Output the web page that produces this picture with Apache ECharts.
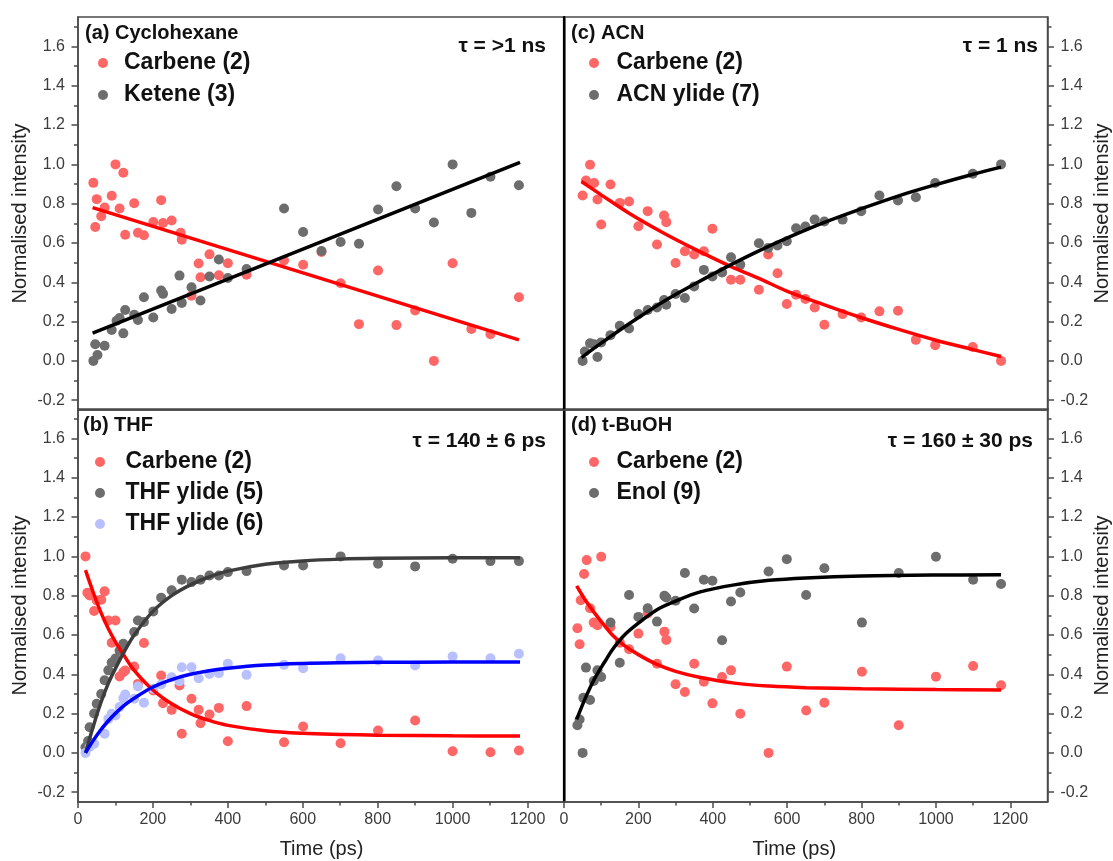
<!DOCTYPE html>
<html><head><meta charset="utf-8">
<script src="https://cdn.jsdelivr.net/npm/echarts@6/dist/echarts.min.js"></script>
<style>html,body{margin:0;padding:0;background:#fff}#c{width:1113px;height:861px}</style>
</head><body><div id="c"></div>
<script>
// ---------- tick labels ----------
const majorXTicks = [0, 200, 400, 600, 800, 1000, 1200];
const minorXTicks = [100, 300, 500, 700, 900, 1100];
const majorYTicks = [-0.2, 0, 0.2, 0.4, 0.6, 0.8, 1.0, 1.2, 1.4, 1.6];
const minorYTicks = [-0.1, 0.1, 0.3, 0.5, 0.7, 0.9, 1.1, 1.3, 1.5, 1.7];

// ---------- (a) Cyclohexane ----------
const cycCarbeneT = [41,46,50,62,71,90,100,111,121,126,150,160,176,201,222,227,250,274,277,303,322,327,351,376,400,450,550,601,650,701,750,801,850,900,950,1000,1050,1101,1177];
const cycCarbeneY = [0.906,0.681,0.823,0.736,0.78,0.84,1.0,0.775,0.957,0.642,0.802,0.652,0.639,0.707,0.818,0.702,0.714,0.652,0.617,0.332,0.496,0.426,0.542,0.436,0.497,0.438,0.511,0.489,0.554,0.395,0.187,0.46,0.182,0.256,0.0,0.497,0.162,0.136,0.324];
const cycKeteneT = [41,46,52,71,90,103,111,121,126,150,160,176,201,222,227,250,271,277,303,327,351,376,400,450,550,601,650,701,750,801,850,900,950,1000,1050,1101,1177];
const cycKeteneY = [0.0,0.085,0.03,0.077,0.157,0.204,0.218,0.14,0.259,0.235,0.208,0.324,0.221,0.358,0.341,0.264,0.434,0.295,0.375,0.307,0.429,0.516,0.422,0.468,0.775,0.656,0.559,0.605,0.596,0.77,0.889,0.775,0.704,1.0,0.753,0.937,0.894];
const cycCarbeneFitT = [39, 1177];
const cycCarbeneFitY = [0.78, 0.107];
const cycKeteneFitT = [39, 1180];
const cycKeteneFitY = [0.141, 1.01];

// ---------- (b) THF ----------
const thfCarbeneT = [20,25,31,43,50,62,71,81,90,100,111,121,126,150,160,176,201,222,227,250,271,277,303,322,327,351,376,400,450,550,601,701,801,900,1000,1101,1177];
const thfCarbeneY = [1.0,0.815,0.801,0.722,0.776,0.779,0.822,0.674,0.56,0.674,0.389,0.411,0.419,0.44,0.351,0.559,0.317,0.394,0.253,0.219,0.343,0.097,0.275,0.219,0.151,0.195,0.229,0.059,0.238,0.054,0.134,0.049,0.114,0.165,0.008,0.003,0.012];
const thfYlide5T = [20,27,31,43,50,62,71,81,90,100,111,121,150,160,176,201,222,250,277,303,327,351,376,400,450,550,601,701,801,900,1000,1101,1177];
const thfYlide5Y = [0.029,0.06,0.13,0.2,0.25,0.3,0.37,0.42,0.46,0.48,0.52,0.555,0.615,0.674,0.666,0.72,0.79,0.827,0.881,0.869,0.881,0.903,0.903,0.92,0.925,0.954,0.954,1.0,0.963,0.949,0.988,0.976,0.976];
const thfYlide6T = [20,31,43,71,81,90,100,111,121,126,150,160,176,201,222,250,271,277,303,322,351,376,400,450,550,601,701,801,900,1000,1101,1177];
const thfYlide6Y = [0.0,0.03,0.046,0.097,0.173,0.199,0.19,0.233,0.278,0.297,0.275,0.338,0.255,0.326,0.348,0.385,0.365,0.436,0.436,0.38,0.402,0.406,0.453,0.397,0.448,0.431,0.482,0.47,0.445,0.491,0.482,0.504];
const thfFitT = [20,40,60,80,100,125,150,200,250,300,350,400,500,600,700,800,1000,1180];
const thfCarbeneFitY = [0.93,0.82,0.72,0.635,0.565,0.49,0.42,0.32,0.25,0.20,0.165,0.14,0.113,0.10,0.094,0.09,0.087,0.086];
const thfYlide5FitY = [0.0,0.13,0.25,0.35,0.43,0.52,0.60,0.72,0.80,0.855,0.895,0.925,0.96,0.977,0.986,0.99,0.993,0.993];
const thfYlide6FitY = [0.0,0.061,0.115,0.161,0.201,0.244,0.278,0.335,0.373,0.40,0.418,0.431,0.447,0.455,0.459,0.461,0.462,0.462];

// ---------- (c) ACN ----------
const acnCarbeneT = [50,59,70,81,90,100,125,150,175,200,225,250,269,275,300,325,350,376,399,425,449,474,524,549,574,599,624,649,674,700,749,799,848,898,946,998,1099,1175];
const acnCarbeneY = [0.842,0.918,0.998,0.905,0.821,0.694,0.898,0.804,0.811,0.685,0.762,0.592,0.74,0.706,0.498,0.558,0.541,0.558,0.672,0.451,0.413,0.413,0.362,0.541,0.446,0.289,0.337,0.315,0.272,0.184,0.238,0.221,0.252,0.255,0.107,0.08,0.071,0.0];
const acnYlideT = [50,56,70,81,90,100,125,150,175,200,225,250,269,275,300,325,350,376,399,425,449,474,524,549,574,599,624,649,674,700,749,799,848,898,946,998,1099,1175];
const acnYlideY = [0.0,0.048,0.09,0.085,0.02,0.094,0.131,0.179,0.165,0.238,0.259,0.272,0.31,0.286,0.34,0.32,0.379,0.463,0.429,0.45,0.527,0.49,0.599,0.575,0.587,0.609,0.675,0.684,0.719,0.709,0.719,0.762,0.842,0.816,0.833,0.905,0.952,1.0];
const acnFitT = [47,100,176,270,350,449,524,599,700,796,900,1000,1100,1175];
const acnCarbeneFitY = [0.913,0.845,0.75,0.648,0.57,0.48,0.42,0.355,0.285,0.222,0.16,0.105,0.057,0.022];
const acnYlideFitY = [0.017,0.09,0.19,0.305,0.39,0.49,0.56,0.625,0.705,0.772,0.84,0.897,0.95,0.986];

// ---------- (d) t-BuOH ----------
const tbuCarbeneT = [36,42,45,54,61,70,80,90,100,125,150,175,200,225,250,270,275,300,325,350,376,399,425,449,474,550,599,651,700,801,900,1000,1100,1175];
const tbuCarbeneY = [0.634,0.553,0.777,0.91,0.981,0.736,0.663,0.65,0.998,0.641,0.561,0.527,0.607,0.709,0.454,0.617,0.575,0.349,0.31,0.454,0.362,0.252,0.386,0.42,0.199,0.0,0.439,0.216,0.255,0.413,0.141,0.388,0.442,0.344];
const tbuEnolT = [36,42,50,52,59,70,80,90,100,125,150,175,200,225,250,270,275,300,325,350,376,399,425,449,474,550,599,651,700,801,900,1000,1100,1175];
const tbuEnolY = [0.141,0.17,0.0,0.28,0.434,0.269,0.366,0.42,0.386,0.663,0.459,0.803,0.692,0.736,0.668,0.799,0.791,0.774,0.915,0.735,0.881,0.876,0.573,0.77,0.816,0.923,0.986,0.803,0.94,0.663,0.915,0.998,0.881,0.859];
const tbuFitT = [34,60,83,110,130,160,200,250,300,364,458,552,650,800,1000,1175];
const tbuCarbeneFitY = [0.85,0.77,0.71,0.645,0.60,0.55,0.50,0.45,0.415,0.385,0.355,0.34,0.332,0.326,0.322,0.32];
const tbuEnolFitY = [0.17,0.29,0.38,0.465,0.525,0.595,0.66,0.728,0.772,0.818,0.855,0.878,0.89,0.9,0.905,0.906];

// ---------- styling ----------
const FONT = '"Liberation Sans", Arial, Helvetica, sans-serif';
const AX = '#4a4a4a';
const RED_PT = '#ff6666', GREY_PT = '#6d6d6d', BLUE_PT = '#b9c0ff';
const zip = (t, y) => t.map((v, i) => [v, y[i]]);

const grids = [
  {left: 78, top: 17, width: 487, height: 393},   // a
  {left: 78, top: 409, width: 487, height: 393},  // b
  {left: 564, top: 17, width: 488, height: 393},  // c
  {left: 564, top: 409, width: 488, height: 393}  // d
].map(g => Object.assign(g, {show: true, borderColor: AX, borderWidth: 1.5, backgroundColor: 'transparent', containLabel: false}));

const xAxis = [], yAxis = [];
function addX(gi, bottom, namePad) {
  xAxis.push({
    type: 'value', gridIndex: gi, min: 0, max: 1300, position: 'bottom',
    axisLine: {show: true, onZero: false, lineStyle: {color: AX, width: 1.5}},
    axisTick: {show: bottom, customValues: majorXTicks, length: 6, lineStyle: {color: AX, width: 1.5}},
    axisLabel: {show: bottom, customValues: majorXTicks, margin: 10, fontSize: 16, color: '#3c3c3c', fontFamily: FONT,
      formatter: v => String(Math.round(v))},
    splitLine: {show: false},
    name: bottom ? 'Time (ps)' : '', nameLocation: 'middle', nameGap: 37,
    nameTextStyle: {fontSize: 20, color: '#222', fontFamily: FONT, padding: namePad || 0}
  });
  xAxis.push({
    type: 'value', gridIndex: gi, min: 0, max: 1300, position: 'bottom',
    axisLine: {show: false, onZero: false},
    axisTick: {show: bottom, customValues: minorXTicks, length: 3.5, lineStyle: {color: AX, width: 1.5}},
    axisLabel: {show: false}, splitLine: {show: false}
  });
}
function addY(gi, pos) {
  const base = yAxis.length;
  yAxis.push({
    type: 'value', gridIndex: gi, min: -0.25, max: 1.75, position: pos,
    axisLine: {show: true, onZero: false, lineStyle: {color: AX, width: 1.5}},
    axisTick: {show: true, customValues: majorYTicks, length: 6.5, lineStyle: {color: AX, width: 1.5}},
    axisLabel: {show: true, customValues: majorYTicks, margin: 13, fontSize: 16, color: '#3c3c3c', fontFamily: FONT,
      formatter: v => Number(v).toFixed(1)},
    splitLine: {show: false},
    name: 'Normalised intensity', nameLocation: 'middle', nameGap: pos === 'left' ? 48 : 39,
    nameTextStyle: {fontSize: 20, color: '#222', fontFamily: FONT}
  });
  yAxis.push({
    type: 'value', gridIndex: gi, min: -0.25, max: 1.75, position: pos,
    axisLine: {show: false, onZero: false},
    axisTick: {show: true, customValues: minorYTicks, length: 4, lineStyle: {color: AX, width: 1.5}},
    axisLabel: {show: false}, splitLine: {show: false}
  });
  if (pos === 'right') {
    yAxis.push({
      type: 'value', gridIndex: gi, min: -0.25, max: 1.75, position: 'left',
      axisLine: {show: true, onZero: false, lineStyle: {color: '#000', width: 2.2}},
      axisTick: {show: false}, axisLabel: {show: false}, splitLine: {show: false}
    });
  }
  return base;
}
addX(0, false); addX(1, true); addX(2, false); addX(3, true, [0, 23, 0, 0]);
const yA = addY(0, 'left'), yB = addY(1, 'left'), yC = addY(2, 'right'), yD = addY(3, 'right');
const xIdx = [0, 2, 4, 6], yIdx = [yA, yB, yC, yD];

const series = [];
function pts(panel, name, t, y, color) {
  series.push({type: 'scatter', name, xAxisIndex: xIdx[panel], yAxisIndex: yIdx[panel],
    data: zip(t, y), symbol: 'circle', symbolSize: 10, itemStyle: {color, opacity: 1}, z: 2, silent: true});
}
function fit(panel, name, t, y, color, smooth) {
  series.push({type: 'line', name, xAxisIndex: xIdx[panel], yAxisIndex: yIdx[panel],
    data: zip(t, y), showSymbol: false, smooth: smooth ? 0.35 : false,
    lineStyle: {color, width: 3.5}, itemStyle: {color}, z: 3, silent: true});
}
pts(0, 'Carbene (2)', cycCarbeneT, cycCarbeneY, RED_PT);
pts(0, 'Ketene (3)', cycKeteneT, cycKeteneY, GREY_PT);
fit(0, 'fit a carbene', cycCarbeneFitT, cycCarbeneFitY, '#ff0000', false);
fit(0, 'fit a ketene', cycKeteneFitT, cycKeteneFitY, '#000000', false);

pts(1, 'Carbene (2)', thfCarbeneT, thfCarbeneY, RED_PT);
pts(1, 'THF ylide (5)', thfYlide5T, thfYlide5Y, GREY_PT);
pts(1, 'THF ylide (6)', thfYlide6T, thfYlide6Y, BLUE_PT);
fit(1, 'fit b carbene', thfFitT, thfCarbeneFitY, '#ff0000', true);
fit(1, 'fit b ylide5', thfFitT, thfYlide5FitY, '#3d3d3d', true);
fit(1, 'fit b ylide6', thfFitT, thfYlide6FitY, '#0000ff', true);

pts(2, 'Carbene (2)', acnCarbeneT, acnCarbeneY, RED_PT);
pts(2, 'ACN ylide (7)', acnYlideT, acnYlideY, GREY_PT);
fit(2, 'fit c carbene', acnFitT, acnCarbeneFitY, '#ff0000', true);
fit(2, 'fit c ylide', acnFitT, acnYlideFitY, '#000000', true);

pts(3, 'Carbene (2)', tbuCarbeneT, tbuCarbeneY, RED_PT);
pts(3, 'Enol (9)', tbuEnolT, tbuEnolY, GREY_PT);
fit(3, 'fit d carbene', tbuFitT, tbuCarbeneFitY, '#ff0000', true);
fit(3, 'fit d enol', tbuFitT, tbuEnolFitY, '#000000', true);

const legText = {fontSize: 23, fontWeight: 'bold', color: '#111', lineHeight: 24, fontFamily: FONT};
function leg(left, top, w, gap, data) {
  return {left, top, orient: 'vertical', padding: 0, itemWidth: w, itemHeight: 10, itemGap: gap,
    icon: 'circle', selectedMode: false, data, textStyle: legText};
}
const titleStyle = {fontSize: 20, fontWeight: 'bold', color: '#111', lineHeight: 20, fontFamily: FONT};
const tauStyle = {fontSize: 21, fontWeight: 'bold', color: '#111', lineHeight: 21, fontFamily: FONT};

const option = {
  animation: false,
  backgroundColor: '#fff',
  textStyle: {fontFamily: FONT},
  grid: grids,
  xAxis, yAxis,
  title: [
    {text: '(a) Cyclohexane', left: 85, top: 23, padding: 0, textStyle: titleStyle},
    {text: 'τ = >1 ns', right: 567, top: 36, padding: 0, textStyle: tauStyle},
    {text: '(b) THF', left: 83, top: 415, padding: 0, textStyle: titleStyle},
    {text: 'τ = 140 ± 6 ps', right: 567, top: 431, padding: 0, textStyle: tauStyle},
    {text: '(c) ACN', left: 571, top: 23, padding: 0, textStyle: titleStyle},
    {text: 'τ = 1 ns', right: 75, top: 36, padding: 0, textStyle: tauStyle},
    {text: '(d) t-BuOH', left: 571, top: 415, padding: 0, textStyle: titleStyle},
    {text: 'τ = 160 ± 30 ps', right: 80, top: 431, padding: 0, textStyle: tauStyle}
  ],
  legend: [
    leg(98, 51, 32, 8, ['Carbene (2)', 'Ketene (3)']),
    leg(95, 450, 41, 7, ['Carbene (2)', 'THF ylide (5)', 'THF ylide (6)']),
    leg(589, 51, 35, 8, ['Carbene (2)', 'ACN ylide (7)']),
    leg(589, 450, 35, 7, ['Carbene (2)', 'Enol (9)'])
  ],
  series
};
const chart = echarts.init(document.getElementById('c'), null, {renderer: 'canvas'});
chart.setOption(option);
</script></body></html>
